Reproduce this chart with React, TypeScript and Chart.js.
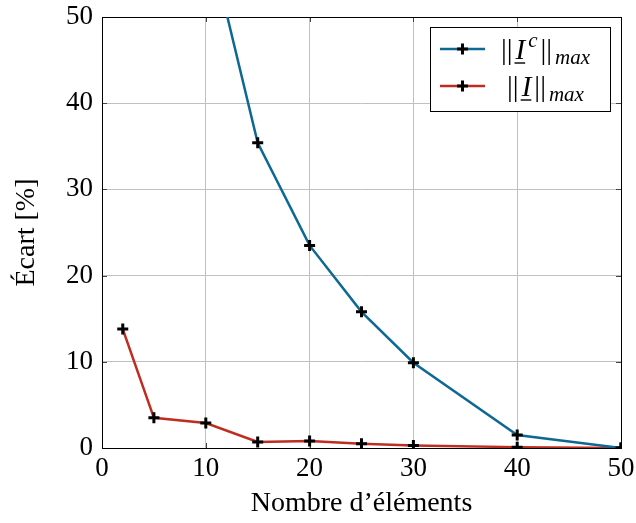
import React, { useEffect, useRef } from "react";
import { Chart, registerables } from "chart.js";

Chart.register(...registerables);

// ---- data ----
const xValues = [2, 5, 10, 15, 20, 25, 30, 40, 50];
const icMaxValues = [null, null, 60.4, 35.4, 23.5, 15.8, 9.9, 1.5, 0.0];
const iMaxValues = [13.8, 3.5, 2.9, 0.7, 0.8, 0.5, 0.3, 0.1, 0.0];
const xTickValues = [0, 10, 20, 30, 40, 50];
const yTickValues = [0, 10, 20, 30, 40, 50];
const xTitle = "Nombre d’éléments";
const yTitle = "Écart [%]";

type Part = { text: string; italic?: boolean; kind?: "normal" | "sup" | "sub"; underline?: boolean };
const legendIC: Part[] = [
  { text: "||" },
  { text: "I", italic: true, underline: true },
  { text: "c", italic: true, kind: "sup" },
  { text: "||" },
  { text: "max", italic: true, kind: "sub" },
];
const legendI: Part[] = [
  { text: "||" },
  { text: "I", italic: true, underline: true },
  { text: "||" },
  { text: "max", italic: true, kind: "sub" },
];

const BLUE = "rgb(14,104,148)";
const RED = "rgb(190,45,32)";
const FONT = "'Liberation Serif', 'Times New Roman', serif";
const GRID = "rgb(192,192,192)";

function drawCross(ctx: CanvasRenderingContext2D, x: number, y: number, r: number) {
  ctx.save();
  ctx.strokeStyle = "#000";
  ctx.lineWidth = 3;
  ctx.beginPath();
  ctx.moveTo(x - r, y);
  ctx.lineTo(x + r, y);
  ctx.moveTo(x, y - r);
  ctx.lineTo(x, y + r);
  ctx.stroke();
  ctx.restore();
}

function partFont(p: Part) {
  const size = p.kind === "sup" || p.kind === "sub" ? 21 : 29;
  return `${p.italic ? "italic " : ""}${size}px ${FONT}`;
}

function drawParts(ctx: CanvasRenderingContext2D, parts: Part[], cx: number, baseline: number) {
  let total = 0;
  const widths = parts.map((p) => {
    ctx.font = partFont(p);
    const w = ctx.measureText(p.text).width + (p.kind === "sub" ? 1 : 3);
    total += w;
    return w;
  });
  let x = cx - total / 2;
  ctx.fillStyle = "#000";
  ctx.textAlign = "left";
  ctx.textBaseline = "alphabetic";
  parts.forEach((p, i) => {
    ctx.font = partFont(p);
    let y = baseline;
    if (p.kind === "sup") y = baseline - 12;
    if (p.kind === "sub") y = baseline + 5;
    ctx.fillText(p.text, x, y);
    if (p.underline) {
      ctx.save();
      ctx.strokeStyle = "#000";
      ctx.lineWidth = 1.4;
      ctx.beginPath();
      ctx.moveTo(x - 1, baseline + 4);
      ctx.lineTo(x + widths[i] - 3, baseline + 4);
      ctx.stroke();
      ctx.restore();
    }
    x += widths[i];
  });
}

const framePlugin = {
  id: "frame",
  beforeDatasetsDraw(chart: any) {
    const { ctx, chartArea } = chart;
    const { left, right, top, bottom } = chartArea;
    const xs = chart.scales.x;
    const ys = chart.scales.y;
    ctx.save();
    ctx.strokeStyle = "#444";
    ctx.lineWidth = 1;
    ctx.beginPath();
    xTickValues.forEach((v) => {
      const px = Math.round(xs.getPixelForValue(v)) + 0.5;
      ctx.moveTo(px, bottom);
      ctx.lineTo(px, bottom - 5);
      ctx.moveTo(px, top);
      ctx.lineTo(px, top + 5);
    });
    yTickValues.forEach((v) => {
      const py = Math.round(ys.getPixelForValue(v)) + 0.5;
      ctx.moveTo(left, py);
      ctx.lineTo(left + 5, py);
      ctx.moveTo(right, py);
      ctx.lineTo(right - 5, py);
    });
    ctx.stroke();
    ctx.strokeStyle = "#000";
    ctx.lineWidth = 1;
    ctx.strokeRect(Math.round(left) + 0.5, Math.round(top) + 0.5, Math.round(right - left), Math.round(bottom - top));
    ctx.restore();
  },
  afterDraw(chart: any) {
    const { ctx } = chart;
    ctx.save();
    const bx = 430.5, by = 27.5, bw = 180, bh = 84;
    ctx.fillStyle = "#fff";
    ctx.fillRect(bx, by, bw, bh);
    ctx.strokeStyle = "#000";
    ctx.lineWidth = 1;
    ctx.strokeRect(bx, by, bw, bh);
    const rows = [
      { color: BLUE, parts: legendIC, y: 49 },
      { color: RED, parts: legendI, y: 86 },
    ];
    rows.forEach((r) => {
      ctx.strokeStyle = r.color;
      ctx.lineWidth = 2.5;
      ctx.beginPath();
      ctx.moveTo(440, r.y);
      ctx.lineTo(485, r.y);
      ctx.stroke();
      drawCross(ctx, 462.5, r.y, 5.5);
      drawParts(ctx, r.parts, 546, r.y + 10);
    });
    ctx.restore();
  },
};

export default function App() {
  const ref = useRef<HTMLCanvasElement | null>(null);
  useEffect(() => {
    if (!ref.current) return;
    const tickFont = { family: FONT, size: 27 };
    const chart = new Chart(ref.current, {
      type: "line",
      data: {
        labels: xValues,
        datasets: [
          {
            label: "||I^c||_max",
            data: xValues.map((x, i) => ({ x, y: icMaxValues[i] as any })),
            borderColor: BLUE,
            backgroundColor: BLUE,
            borderWidth: 2.5,
            pointStyle: "cross",
            pointRadius: 5.5,
            pointBorderWidth: 3,
            pointBorderColor: "#000",
            pointBackgroundColor: "#000",
            spanGaps: false,
          },
          {
            label: "||I||_max",
            data: xValues.map((x, i) => ({ x, y: iMaxValues[i] })),
            borderColor: RED,
            backgroundColor: RED,
            borderWidth: 2.5,
            pointStyle: "cross",
            pointRadius: 5.5,
            pointBorderWidth: 3,
            pointBorderColor: "#000",
            pointBackgroundColor: "#000",
          },
        ],
      },
      options: {
        animation: false,
        responsive: true,
        maintainAspectRatio: false,
        layout: { padding: 0 },
        plugins: { legend: { display: false }, tooltip: { enabled: false } },
        scales: {
          x: {
            type: "linear",
            min: 0,
            max: 50,
            afterBuildTicks: (s: any) => {
              s.ticks = xTickValues.map((v) => ({ value: v }));
            },
            afterFit: (s: any) => {
              s.height = 75;
              s.paddingLeft = 0;
              s.paddingRight = 15;
            },
            ticks: { font: tickFont, color: "#000", padding: 5, maxRotation: 0 },
            grid: { color: GRID, lineWidth: 1, drawTicks: false },
            border: { display: false },
            title: {
              display: true,
              text: xTitle,
              font: { family: FONT, size: 28 },
              color: "#000",
              padding: { top: 0, bottom: 3 },
            },
          },
          y: {
            type: "linear",
            min: 0,
            max: 50,
            afterBuildTicks: (s: any) => {
              s.ticks = yTickValues.map((v) => ({ value: v }));
            },
            afterFit: (s: any) => {
              s.width = 102;
              s.paddingTop = 17;
              s.paddingBottom = 0;
            },
            ticks: { font: tickFont, color: "#000", padding: 9 },
            grid: { color: GRID, lineWidth: 1, drawTicks: false },
            border: { display: false },
            title: {
              display: true,
              text: yTitle,
              font: { family: FONT, size: 28 },
              color: "#000",
              padding: { top: 10, bottom: 0 },
            },
          },
        },
      },
      plugins: [framePlugin],
    } as any);
    return () => chart.destroy();
  }, []);
  return (
    <div style={{ position: "fixed", left: 0, top: 0, width: 636, height: 523, background: "#fff" }}>
      <canvas ref={ref} />
    </div>
  );
}
